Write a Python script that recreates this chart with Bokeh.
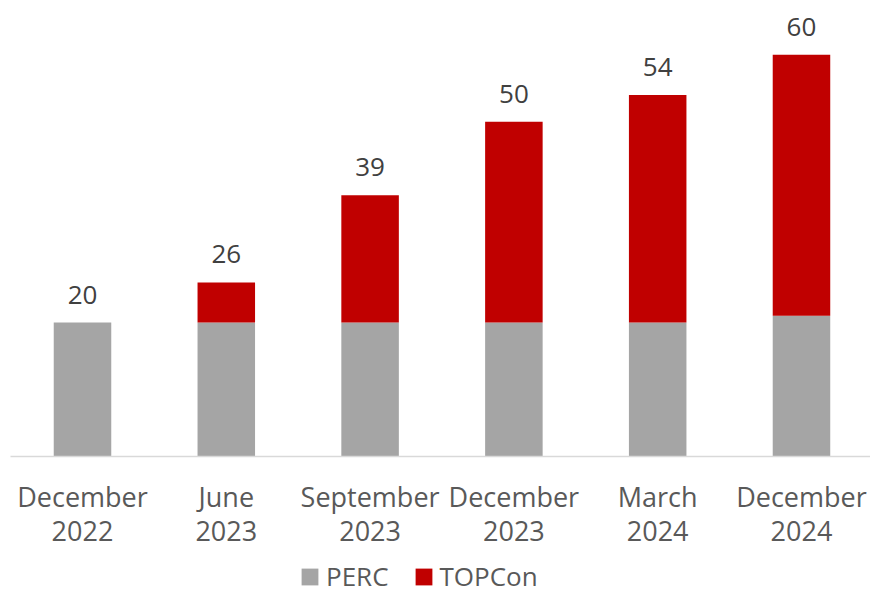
from bokeh.plotting import figure
from bokeh.models import ColumnDataSource, Range1d, FixedTicker, Legend, LegendItem, LinearAxis
from bokeh.layouts import column
from bokeh.core.properties import value
from bokeh.embed import file_html
from bokeh.resources import INLINE

months = ["December", "June", "September", "December", "March", "December"]
years = ["2022", "2023", "2023", "2023", "2024", "2024"]
perc = [20, 20, 20, 20, 20, 21]
topcon = [0, 6, 19, 30, 34, 39]
totals = [20, 26, 39, 50, 54, 60]

FONT = "Open Sans"
GRAY = "#A5A5A5"
RED = "#C00000"

xs = list(range(len(months)))
src = ColumnDataSource(dict(
    x=xs,
    perc=perc,
    topcon_bottom=perc,
    topcon_top=[a + b for a, b in zip(perc, topcon)],
    total=totals,
    label=[str(t) for t in totals],
))

# ---- main chart ----
p = figure(width=870, height=554, output_backend="svg", toolbar_location=None,
           x_range=Range1d(-0.5007, 5.48), y_range=Range1d(0, 66.9),
           min_border_left=10, min_border_right=0, min_border_top=8, min_border_bottom=98,
           x_axis_location=None, y_axis_location=None)

p.vbar(x="x", bottom=0, top="perc", width=0.4, source=src, color=GRAY, line_color=None)
p.vbar(x="x", bottom="topcon_bottom", top="topcon_top", width=0.4, source=src, color=RED, line_color=None)

p.text(x="x", y="total", text="label", source=src, text_align="center", text_baseline="middle",
       y_offset=-28, text_font=value(FONT), text_font_size="26px", text_color="#404040")

p.outline_line_color = None
p.background_fill_color = "white"
p.border_fill_color = "white"
p.grid.visible = False


def make_axis(labels, standoff, line_color):
    ax = LinearAxis(ticker=FixedTicker(ticks=xs),
                    major_label_overrides={i: c for i, c in enumerate(labels)})
    ax.major_tick_line_color = None
    ax.minor_tick_line_color = None
    ax.major_tick_out = 0
    ax.major_tick_in = 0
    ax.minor_tick_out = 0
    ax.axis_line_color = line_color
    ax.axis_line_width = 1.5
    ax.major_label_text_font = FONT
    ax.major_label_text_font_size = "27px"
    ax.major_label_text_color = "#595959"
    ax.major_label_standoff = standoff
    return ax


p.add_layout(make_axis(months, 21, "#D9D9D9"), "below")
p.add_layout(make_axis(years, 3, None), "below")

# ---- legend strip ----
lg = figure(width=870, height=40, output_backend="svg", toolbar_location=None,
            x_range=Range1d(-0.5007, 5.48), y_range=Range1d(1000, 1001),
            min_border_left=10, min_border_right=0, min_border_top=0, min_border_bottom=0,
            x_axis_location=None, y_axis_location=None)
lg.outline_line_color = None
lg.grid.visible = False
lg.background_fill_color = "white"
lg.border_fill_color = "white"
k1 = lg.vbar(x="x", bottom=0, top="perc", width=0.4, source=src, color=GRAY, line_color=None)
k2 = lg.vbar(x="x", bottom="topcon_bottom", top="topcon_top", width=0.4, source=src, color=RED, line_color=None)

legend = Legend(items=[LegendItem(label="PERC", renderers=[k1]), LegendItem(label="TOPCon", renderers=[k2])],
                orientation="horizontal", location=(289, 0),
                label_text_font=FONT, label_text_font_size="26px", label_text_color="#595959",
                glyph_width=21, glyph_height=21, label_standoff=6, spacing=24,
                padding=0, margin=0, label_height=26,
                border_line_color=None, background_fill_alpha=0)
lg.add_layout(legend, "center")

layout = column(p, lg, spacing=0)
open("out.html", "w").write(file_html(layout, INLINE))
